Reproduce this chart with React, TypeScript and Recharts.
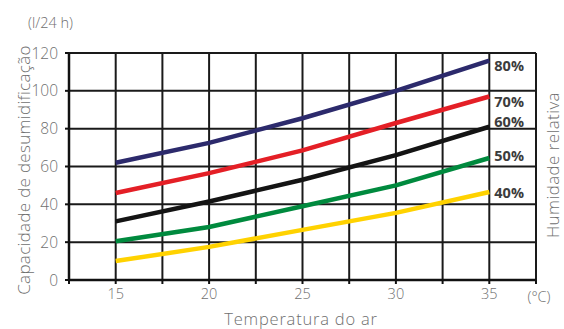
import { LineChart, Line, XAxis, YAxis, CartesianGrid } from "recharts";

// ─── Data ─────────────────────────────────────────────────────────────────────

const temperatures = [15, 20, 25, 30, 35];
const rh80 = [62, 72.5, 85.5, 100, 116];
const rh70 = [46, 56.5, 68.5, 83, 97];
const rh60 = [31, 41.5, 53, 66, 81];
const rh50 = [20.5, 28, 39, 50, 64.5];
const rh40 = [10, 17.5, 26.5, 35.5, 46.5];

const xTicks = [12.5, 15, 17.5, 20, 22.5, 25, 27.5, 30, 32.5, 35, 37.5];
const xLabels = [15, 20, 25, 30, 35];
const yTicks = [0, 20, 40, 60, 80, 100, 120];

const data = temperatures.map((t, i) => ({
  t,
  rh80: rh80[i],
  rh70: rh70[i],
  rh60: rh60[i],
  rh50: rh50[i],
  rh40: rh40[i],
}));

const series = [
  { key: "rh80", name: "80%", color: "#2c2a6c", dy: 5 },
  { key: "rh70", name: "70%", color: "#e41f26", dy: 5 },
  { key: "rh60", name: "60%", color: "#141414", dy: -5 },
  { key: "rh50", name: "50%", color: "#008a3e", dy: -2 },
  { key: "rh40", name: "40%", color: "#ffd200", dy: 0 },
];

const FONT = "'Open Sans', Lato, sans-serif";
const GRAY = "#6f6f6f";

// ─── End label ────────────────────────────────────────────────────────────────

function endLabel(name: string, dy: number) {
  // eslint-disable-next-line @typescript-eslint/no-explicit-any
  return (props: any) => {
    const { x, y, index } = props;
    if (index !== temperatures.length - 1) return null;
    return (
      <text
        x={x + 5}
        y={y + dy}
        dominantBaseline="central"
        fontFamily={FONT}
        fontWeight={700}
        fontSize={14.5}
        fill="#3c3c3c"
      >
        {name}
      </text>
    );
  };
}

// ─── Component ────────────────────────────────────────────────────────────────

export default function App() {
  return (
    <div style={{ position: "absolute", left: 0, top: 0, width: 564, height: 329, background: "#fff" }}>
      <LineChart
        width={564}
        height={329}
        data={data}
        margin={{ top: 53, right: 28, left: 0, bottom: 0 }}
      >
        <CartesianGrid stroke="#1a1a1a" strokeWidth={2} />
        <XAxis
          dataKey="t"
          type="number"
          domain={[12.5, 37.5]}
          ticks={xTicks}
          interval={0}
          tickFormatter={(v: number) => (xLabels.includes(v) ? String(v) : "")}
          axisLine={{ stroke: "#111", strokeWidth: 2.5 }}
          tickLine={{ stroke: "#111", strokeWidth: 2 }}
          tickSize={4}
          tickMargin={5}
          tick={{ fill: GRAY, fontSize: 14.5, fontFamily: FONT, fontWeight: 300 }}
          height={49}
        />
        <YAxis
          type="number"
          domain={[0, 120]}
          ticks={yTicks}
          interval={0}
          axisLine={{ stroke: "#111", strokeWidth: 2.5 }}
          tickLine={{ stroke: "#111", strokeWidth: 2 }}
          tickSize={4}
          tickMargin={7}
          tick={{ fill: GRAY, fontSize: 15.5, fontFamily: FONT, fontWeight: 300 }}
          width={69}
        />
        {series.map((s) => (
          <Line
            key={s.key}
            type="linear"
            dataKey={s.key}
            stroke={s.color}
            strokeWidth={4.5}
            dot={false}
            activeDot={false}
            isAnimationActive={false}
            label={endLabel(s.name, s.dy)}
          />
        ))}
        <text x={28} y={22} dominantBaseline="central" fontFamily={FONT} fontWeight={300} fontSize={14.5} fill={GRAY}>
          (l/24 h)
        </text>
        <text
          x={23}
          y={170}
          transform="rotate(-90 23 170)"
          textAnchor="middle"
          dominantBaseline="central"
          fontFamily={FONT}
          fontWeight={300}
          fontSize={17}
          letterSpacing={0.3}
          fill={GRAY}
        >
          Capacidade de desumidificação
        </text>
        <text
          x={552}
          y={165}
          transform="rotate(-90 552 165)"
          textAnchor="middle"
          dominantBaseline="central"
          fontFamily={FONT}
          fontWeight={300}
          fontSize={17}
          letterSpacing={0.4}
          fill={GRAY}
        >
          Humidade relativa
        </text>
        <text x={539} y={296} textAnchor="middle" dominantBaseline="central" fontFamily={FONT} fontWeight={300} fontSize={14.5} fill={GRAY}>
          (°C)
        </text>
        <text
          x={301}
          y={318}
          textAnchor="middle"
          dominantBaseline="central"
          fontFamily={FONT}
          fontWeight={300}
          fontSize={16.5}
          letterSpacing={0.8}
          fill={GRAY}
        >
          Temperatura do ar
        </text>
      </LineChart>
    </div>
  );
}
